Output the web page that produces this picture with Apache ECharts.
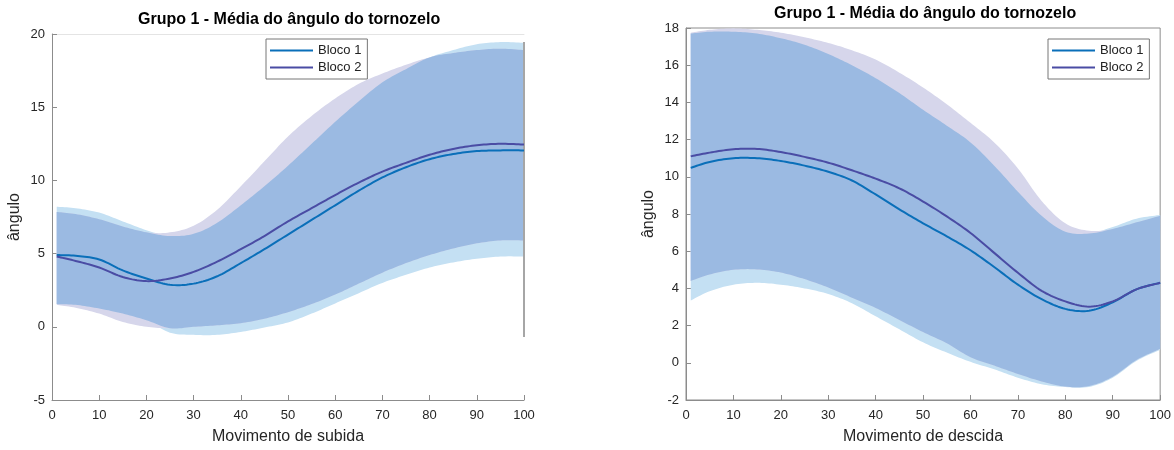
<!DOCTYPE html>
<html>
<head>
<meta charset="utf-8">
<script src="https://cdn.jsdelivr.net/npm/echarts@6/dist/echarts.min.js"></script>
<style>
	html, body { margin: 0; padding: 0; background: #fff; }
	#grafico { width: 1174px; height: 450px; }
</style>
</head>
<body>
<div id="grafico"></div>
<script>
// pontos do movimento (% do ciclo)
var pontos = [1, 5, 10, 15, 20, 25, 30, 35, 40, 45, 50, 55, 60, 65, 70, 75, 80, 85, 90, 95, 100];

// subida
var subidaB1 = [4.9, 4.85, 4.6, 3.85, 3.3, 2.87, 2.95, 3.45, 4.35, 5.3, 6.3, 7.3, 8.3, 9.3, 10.2, 10.9, 11.45, 11.8, 12.0, 12.05, 12.05];
var subidaB2 = [4.8, 4.5, 4.05, 3.4, 3.12, 3.3, 3.75, 4.45, 5.3, 6.2, 7.2, 8.1, 9.0, 9.85, 10.6, 11.2, 11.75, 12.15, 12.4, 12.5, 12.45];
var subidaB1Sup = [8.2, 8.1, 7.8, 7.2, 6.6, 6.2, 6.35, 7.1, 8.3, 9.6, 11.0, 12.5, 14.0, 15.4, 16.7, 17.6, 18.4, 18.9, 19.3, 19.45, 19.4];
var subidaB1Inf = [1.55, 1.5, 1.25, 0.9, 0.45, -0.4, -0.55, -0.55, -0.35, -0.05, 0.3, 0.9, 1.6, 2.3, 3.0, 3.55, 4.05, 4.4, 4.65, 4.8, 4.8];
var subidaB2Sup = [7.85, 7.7, 7.35, 6.85, 6.45, 6.45, 6.9, 8.0, 9.6, 11.3, 13.0, 14.4, 15.6, 16.6, 17.3, 17.9, 18.4, 18.7, 18.9, 19.0, 18.9];
var subidaB2Inf = [1.5, 1.3, 0.9, 0.33, 0.0, -0.1, 0.0, 0.1, 0.25, 0.55, 1.0, 1.55, 2.2, 2.95, 3.7, 4.35, 4.9, 5.35, 5.7, 5.9, 5.9];
var subidaBorda = [-0.7, 19.45]; // traço cinza em x = 100

// descida
var descidaB1 = [10.48, 10.8, 11.0, 11.0, 10.85, 10.6, 10.27, 9.8, 9.05, 8.25, 7.5, 6.8, 6.05, 5.15, 4.2, 3.42, 2.9, 2.8, 3.25, 3.95, 4.3];
var descidaB2 = [11.1, 11.3, 11.48, 11.5, 11.33, 11.07, 10.76, 10.35, 9.9, 9.38, 8.67, 7.87, 6.98, 5.91, 4.84, 3.87, 3.3, 3.02, 3.3, 3.95, 4.3];
var descidaB1Sup = [17.7, 17.8, 17.8, 17.7, 17.45, 17.1, 16.6, 16.0, 15.3, 14.5, 13.6, 12.75, 11.85, 10.6, 9.2, 7.9, 7.05, 6.95, 7.3, 7.75, 7.95];
var descidaB1Inf = [3.35, 3.85, 4.2, 4.3, 4.2, 4.0, 3.7, 3.2, 2.5, 1.8, 1.1, 0.55, 0.05, -0.35, -0.8, -1.15, -1.3, -1.3, -0.8, 0.1, 0.7];
var descidaB2Sup = [17.75, 17.9, 17.98, 17.9, 17.75, 17.5, 17.2, 16.8, 16.3, 15.6, 14.8, 13.9, 12.9, 11.85, 10.45, 8.7, 7.5, 7.1, 7.2, 7.55, 7.9];
var descidaB2Inf = [4.4, 4.75, 5.0, 5.02, 4.85, 4.5, 4.05, 3.5, 2.95, 2.3, 1.65, 1.05, 0.3, -0.15, -0.6, -1.0, -1.28, -1.25, -0.75, 0.15, 0.75];

var fonte = "'Liberation Sans', Arial, sans-serif";
var corB1 = '#0a6fb9';
var corB2 = '#4a4ca4';
var faixaB1 = '#c4e0f3';
var faixaB2 = '#d6d6eb';
var faixaAmbos = '#9bbae2';

function pares(xs, ys) {
	return xs.map(function (x, i) { return [x, ys[i]]; });
}

// curva suave (catmull-rom) em pixels, so para o desenho
function suaviza(pts) {
	var out = [];
	for (var i = 0; i < pts.length - 1; i++) {
		var p0 = pts[Math.max(i - 1, 0)], p1 = pts[i], p2 = pts[i + 1], p3 = pts[Math.min(i + 2, pts.length - 1)];
		for (var k = 0; k < 10; k++) {
			var t = k / 10, t2 = t * t, t3 = t2 * t;
			var f = function (a, b, c, d) {
				return 0.5 * (2 * b + (-a + c) * t + (2 * a - 5 * b + 4 * c - d) * t2 + (-a + 3 * b - 3 * c + d) * t3);
			};
			out.push([f(p0[0], p1[0], p2[0], p3[0]), f(p0[1], p1[1], p2[1], p3[1])]);
		}
	}
	out.push(pts[pts.length - 1]);
	return out;
}

// faixa preenchida entre inf e sup
function faixa(eixo, inf, sup, cor) {
	return {
		type: 'custom', xAxisIndex: eixo, yAxisIndex: eixo, silent: true, z: 1,
		data: pontos.map(function (x, i) { return [x, inf[i], sup[i]]; }),
		encode: { x: 0, y: [1, 2] },
		renderItem: function (params, api) {
			if (params.dataIndex !== 0) return null;
			var cima = pontos.map(function (x, i) { return api.coord([x, sup[i]]); });
			var baixo = pontos.map(function (x, i) { return api.coord([x, inf[i]]); });
			var poly = suaviza(cima).concat(suaviza(baixo).reverse());
			return { type: 'polygon', shape: { points: poly }, style: { fill: cor, stroke: null } };
		}
	};
}

function faixas(eixo, b1Inf, b1Sup, b2Inf, b2Sup) {
	var ambInf = b1Inf.map(function (v, i) { return Math.max(v, b2Inf[i]); });
	var ambSup = b1Sup.map(function (v, i) { return Math.min(v, b2Sup[i]); });
	return [
		faixa(eixo, b1Inf, b1Sup, faixaB1),
		faixa(eixo, b2Inf, b2Sup, faixaB2),
		faixa(eixo, ambInf, ambSup, faixaAmbos)
	];
}

// curva media
function media(nome, eixo, valores, cor) {
	return {
		name: nome, type: 'custom', xAxisIndex: eixo, yAxisIndex: eixo, z: 3,
		data: pares(pontos, valores),
		encode: { x: 0, y: 1 },
		itemStyle: { color: cor },
		renderItem: function (params, api) {
			if (params.dataIndex !== 0) return null;
			var pts = pontos.map(function (x, i) { return api.coord([x, valores[i]]); });
			return {
				type: 'polyline', shape: { points: suaviza(pts) },
				style: { stroke: cor, lineWidth: 2, fill: null, lineJoin: 'round' }
			};
		}
	};
}

function eixoX(grade, nome) {
	return {
		type: 'value', gridIndex: grade, min: 0, max: 100, interval: 10,
		name: nome, nameLocation: 'middle', nameGap: 29,
		nameTextStyle: { fontSize: 16, color: '#262626', fontFamily: fonte },
		axisLine: { onZero: false, lineStyle: { color: '#8c8c8c' } },
		axisTick: { inside: true, length: 5, lineStyle: { color: '#8c8c8c' } },
		axisLabel: { fontSize: 13, color: '#262626', fontFamily: fonte, margin: 9 },
		splitLine: { show: false }
	};
}

function eixoY(grade, min, max, passo) {
	return {
		type: 'value', gridIndex: grade, min: min, max: max, interval: passo,
		name: 'ângulo', nameLocation: 'middle', nameGap: 29, nameRotate: 90,
		nameTextStyle: { fontSize: 16, color: '#262626', fontFamily: fonte },
		axisLine: { show: true, onZero: false, lineStyle: { color: '#8c8c8c' } },
		axisTick: { show: true, inside: true, length: 5, lineStyle: { color: '#8c8c8c' } },
		axisLabel: { fontSize: 13, color: '#262626', fontFamily: fonte, margin: 7 },
		splitLine: { show: false }
	};
}

function legenda(esq) {
	return {
		data: [{ name: 'Bloco 1', icon: 'rect' }, { name: 'Bloco 2', icon: 'rect' }],
		left: esq, top: 39, orient: 'vertical',
		itemWidth: 43, itemHeight: 2, itemGap: 4,
		padding: [5, 6, 5, 4],
		borderColor: '#777', borderWidth: 1, backgroundColor: '#fff',
		textStyle: { fontSize: 13, color: '#222', fontFamily: fonte },
		selectedMode: false
	};
}

var myChart = echarts.init(document.getElementById('grafico'));

var option = {
	animation: false,
	backgroundColor: '#fff',
	title: [
		{ text: 'Grupo 1 - Média do ângulo do tornozelo', left: 138, top: 12, padding: 0,
			textStyle: { fontSize: 16, fontWeight: 'bold', color: '#000', fontFamily: fonte } },
		{ text: 'Grupo 1 - Média do ângulo do tornozelo', left: 774, top: 6, padding: 0,
			textStyle: { fontSize: 16, fontWeight: 'bold', color: '#000', fontFamily: fonte } }
	],
	legend: [legenda(266), legenda(1048)],
	grid: [
		{ left: 52, top: 34, width: 472, height: 372 },
		{ left: 686, top: 28, width: 476, height: 375, show: true, borderColor: '#8c8c8c', borderWidth: 1, backgroundColor: 'transparent' }
	],
	xAxis: [
		eixoX(0, 'Movimento de subida'),
		eixoX(1, 'Movimento de descida'),
		{
			type: 'value', gridIndex: 0, position: 'top', min: 0, max: 100,
			axisLine: { onZero: false, lineStyle: { color: '#e4e4e4' } },
			axisTick: { show: false }, axisLabel: { show: false }, splitLine: { show: false }
		}
	],
	yAxis: [
		eixoY(0, -5, 20, 5),
		eixoY(1, -2, 18, 2)
	],
	series: [].concat(
		faixas(0, subidaB1Inf, subidaB1Sup, subidaB2Inf, subidaB2Sup),
		faixas(1, descidaB1Inf, descidaB1Sup, descidaB2Inf, descidaB2Sup),
		[{
			name: 'borda', type: 'line', xAxisIndex: 0, yAxisIndex: 0,
			data: pares([100, 100], subidaBorda), symbol: 'none', silent: true,
			lineStyle: { width: 2, color: '#a6a6a6' }, z: 2
		}],
		[
			media('Bloco 1', 0, subidaB1, corB1),
			media('Bloco 2', 0, subidaB2, corB2),
			media('Bloco 1', 1, descidaB1, corB1),
			media('Bloco 2', 1, descidaB2, corB2)
		]
	)
};

myChart.setOption(option);
</script>
</body>
</html>
